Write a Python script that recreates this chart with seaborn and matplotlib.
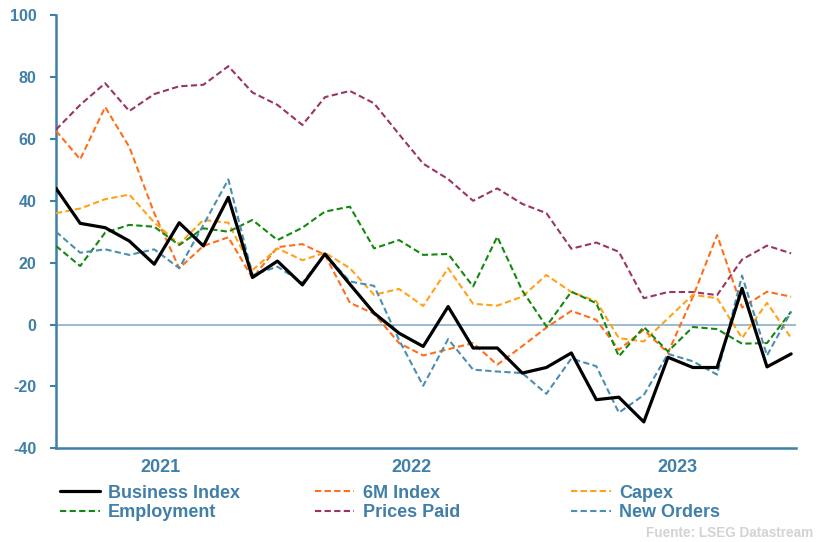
import matplotlib
matplotlib.use('Agg')
import matplotlib.pyplot as plt
import matplotlib.dates as mdates
from matplotlib.lines import Line2D
import seaborn as sns
import pandas as pd

# meses abr-2021 .. oct-2023
fechas = pd.date_range('2021-04-01', periods=31, freq='MS')

business = [44, 32.7, 31.3, 27, 19.5, 32.9, 25.4, 41.1, 15.2, 20.5, 12.8, 22.8, 13, 3.7, -2.8, -7.1,
            5.8, -7.6, -7.6, -15.7, -13.9, -9.2, -24.3, -23.5, -31.5, -10.6, -13.9, -13.9, 11.7, -13.7, -9.5]
m6_index = [62.6, 53.4, 70.3, 57.4, 36, 18.2, 25.4, 28.2, 15, 25, 26, 22.5, 7, 3.5, -6, -10,
            -8, -6, -13, -7, -1, 4.4, 1.5, -8.2, -1.7, -9.2, 9, 28.9, 5.5, 10.6, 9]
capex = [36, 37.5, 40.5, 42, 33, 26, 33.8, 32.9, 17.6, 24.6, 20.8, 23.2, 18.2, 9.6, 11.5, 6,
         18.2, 6.7, 6.1, 9, 16, 10.5, 7.5, -4.4, -5.5, 2, 9.6, 8.5, -4.4, 7, -4.4]
employment = [25.4, 18.9, 29.7, 32.2, 31.6, 25.7, 31.1, 30, 33.8, 27.3, 31.3, 36.5, 38.1, 24.6, 27.3, 22.5,
              22.8, 12.3, 28.4, 11, -0.6, 10.6, 6.9, -10.3, -0.8, -8.7, -0.8, -1.5, -6.2, -6, 4.2]
prices_paid = [63, 71, 78, 69, 74.5, 77, 77.5, 83.5, 75, 71, 64.5, 73.5, 75.5, 71.5, 61.5, 52,
               47, 40, 44, 39, 36, 24.5, 26.5, 23.5, 8.5, 10.5, 10.5, 9.5, 21, 25.5, 23]
new_orders = [30, 23.2, 24.3, 22.5, 24.3, 18.2, 32.2, 46.9, 16, 18.7, 13.5, 22.8, 13.9, 12.5, -5, -19.8,
              -4.7, -14.6, -15.2, -15.7, -22.4, -11, -13.5, -28.5, -22.8, -9.5, -11.9, -16.2, 15.8, -10, 4.2]

series = {
    'Prices Paid': prices_paid,
    '6M Index': m6_index,
    'Capex': capex,
    'Employment': employment,
    'New Orders': new_orders,
    'Business Index': business,
}
colores = {
    'Business Index': '#000000',
    '6M Index': '#FF6F1A',
    'Capex': '#FFA21A',
    'Employment': '#13880F',
    'Prices Paid': '#9A3467',
    'New Orders': '#4A8EB5',
}
azul = '#3F7FA8'

sns.set_style('white')
plt.rcParams['font.family'] = ['Liberation Sans', 'DejaVu Sans']
plt.rcParams['axes.unicode_minus'] = False

fig, ax = plt.subplots(figsize=(8.24, 5.42), dpi=100)
fig.subplots_adjust(left=0.068, right=0.966, top=0.972, bottom=0.173)

ax.axhline(0, color='#93B5CD', lw=1.3, zorder=1)

for nombre, valores in series.items():
    if nombre == 'Business Index':
        sns.lineplot(x=fechas, y=valores, color=colores[nombre], lw=2.3, ax=ax, zorder=5)
    else:
        sns.lineplot(x=fechas, y=valores, color=colores[nombre], lw=1.5,
                     linestyle=(0, (3, 1.6)), ax=ax, zorder=3)

# ejes
ax.set_ylim(-40, 100)
ax.set_yticks(range(-40, 101, 20))
ax.set_xlim(fechas[0], fechas[-1] + pd.Timedelta(days=6))
ax.set_xlabel('')
ax.set_ylabel('')

for lado in ['top', 'right']:
    ax.spines[lado].set_visible(False)
for lado in ['left', 'bottom']:
    ax.spines[lado].set_color(azul)
    ax.spines[lado].set_linewidth(1.8)

limites = [pd.Timestamp('2021-12-16'), pd.Timestamp('2022-12-16')]
ax.set_xticks(limites)
ax.set_xticklabels(['', ''])
x0, x1 = ax.get_xlim()
b = [x0] + [mdates.date2num(d) for d in limites] + [x1]
ax.set_xticks([(b[i] + b[i + 1]) / 2 for i in range(3)], minor=True)
ax.set_xticklabels(['2021', '2022', '2023'], minor=True)
ax.tick_params(axis='x', which='major', length=4, width=1.5, color=azul, direction='out')
ax.tick_params(axis='x', which='minor', length=0, pad=7.5, labelsize=13, labelcolor=azul)
ax.tick_params(axis='y', length=4, width=1.5, color=azul, pad=10, labelsize=11.5, labelcolor=azul, left=True)
for t in ax.get_yticklabels() + ax.get_xticklabels(minor=True):
    t.set_fontweight('bold')

# leyenda en 3 columnas
columnas = [['Business Index', 'Employment'], ['6M Index', 'Prices Paid'], ['Capex', 'New Orders']]
xs = [0.073, 0.382, 0.693]
for xpos, col in zip(xs, columnas):
    handles = []
    for nombre in col:
        if nombre == 'Business Index':
            handles.append(Line2D([], [], color=colores[nombre], lw=2.3))
        else:
            handles.append(Line2D([], [], color=colores[nombre], lw=1.5, linestyle=(0, (3, 1.6))))
    fig.legend(handles, col, loc='upper left', bbox_to_anchor=(xpos, 0.106), frameon=False,
               borderpad=0, borderaxespad=0, handlelength=2.2, handletextpad=0.45, labelspacing=0.15,
               prop={'weight': 'bold', 'size': 13}, labelcolor=azul)

fig.text(0.987, 0.016, 'Fuente: LSEG Datastream', ha='right', va='center',
         color='#D3D3D3', fontsize=9.8, fontweight='bold')

fig.savefig('out.png', dpi=100)
